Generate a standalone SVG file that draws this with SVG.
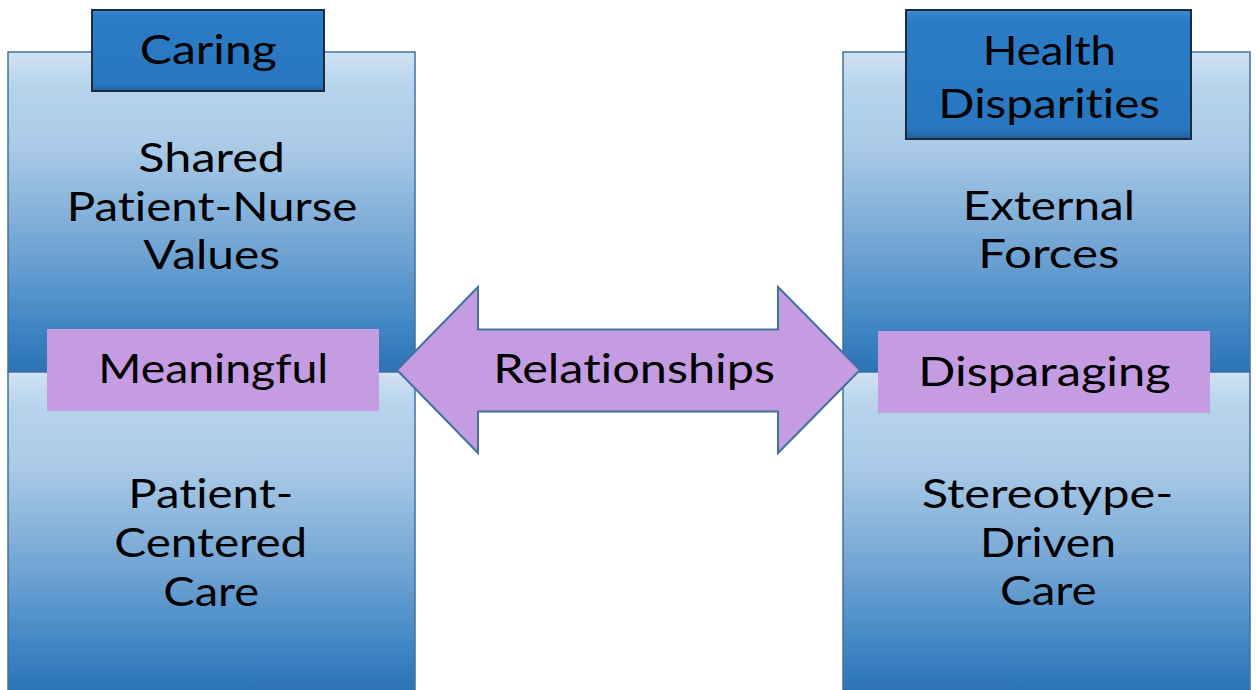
<svg xmlns="http://www.w3.org/2000/svg" width="1256" height="690" viewBox="0 0 1256 690">
  <defs>
    <linearGradient id="panelFill" x1="0" y1="0" x2="0" y2="1">
      <stop offset="0" stop-color="#d0e2f3"/>
      <stop offset="0.1" stop-color="#b8d4ec"/>
      <stop offset="0.3" stop-color="#a9cae7"/>
      <stop offset="0.6" stop-color="#74a6d4"/>
      <stop offset="0.85" stop-color="#4187c5"/>
      <stop offset="1" stop-color="#2c73b5"/>
    </linearGradient>
    <linearGradient id="headFill" x1="0" y1="0" x2="0" y2="1">
      <stop offset="0" stop-color="#3a8ad0"/>
      <stop offset="0.08" stop-color="#2b7cc6"/>
      <stop offset="0.92" stop-color="#2877c0"/>
      <stop offset="1" stop-color="#1f5f9c"/>
    </linearGradient>
  </defs>
  <style>
    .panel { fill: url(#panelFill); stroke: #41719c; stroke-width: 1.5; }
    .head { fill: url(#headFill); stroke: #1b2c3f; stroke-width: 2; }
    .tag { fill: #c59be1; }
    .arrow { fill: #c59be1; stroke: #41719c; stroke-width: 2; stroke-linejoin: miter; }
    text { font-family: Lato, "Noto Sans", "Liberation Sans", sans-serif; font-size: 40px; fill: #000; text-anchor: middle; font-variant-ligatures: none; }
  </style>

  <rect width="1256" height="690" fill="#ffffff"/>

  <!-- Left column: Caring -->
  <g id="caring-upper">
    <rect class="panel" x="8" y="52" width="407" height="320"/>
    <text x="211.7" y="171.7" textLength="146.7" lengthAdjust="spacingAndGlyphs">Shared</text>
    <text x="212" y="220.7" textLength="290.7" lengthAdjust="spacingAndGlyphs">Patient-Nurse</text>
    <text x="211.7" y="269.3" textLength="136.7" lengthAdjust="spacingAndGlyphs">Values</text>
  </g>
  <g id="caring-lower">
    <rect class="panel" x="8" y="372" width="407" height="320"/>
    <text x="210.8" y="507.7" textLength="165" lengthAdjust="spacingAndGlyphs">Patient-</text>
    <text x="210.8" y="556.7" textLength="193" lengthAdjust="spacingAndGlyphs">Centered</text>
    <text x="211.2" y="605.7" textLength="95.7" lengthAdjust="spacingAndGlyphs">Care</text>
  </g>
  <g id="caring-header">
    <rect class="head" x="92" y="10" width="232" height="81"/>
    <text x="208.3" y="64.3" textLength="137" lengthAdjust="spacingAndGlyphs">Caring</text>
  </g>
  <g id="meaningful">
    <rect class="tag" x="47" y="329" width="332" height="82"/>
    <text x="213.3" y="383.3" textLength="230" lengthAdjust="spacingAndGlyphs">Meaningful</text>
  </g>

  <!-- Right column: Health Disparities -->
  <g id="disparities-upper">
    <rect class="panel" x="843" y="52" width="407" height="320"/>
    <text x="1048.8" y="220" textLength="172.3" lengthAdjust="spacingAndGlyphs">External</text>
    <text x="1048.8" y="268.3" textLength="141" lengthAdjust="spacingAndGlyphs">Forces</text>
  </g>
  <g id="disparities-lower">
    <rect class="panel" x="843" y="372" width="407" height="320"/>
    <text x="1047.5" y="508.3" textLength="251.7" lengthAdjust="spacingAndGlyphs">Stereotype-</text>
    <text x="1048" y="556.7" textLength="136" lengthAdjust="spacingAndGlyphs">Driven</text>
    <text x="1048.3" y="605" textLength="96.7" lengthAdjust="spacingAndGlyphs">Care</text>
  </g>
  <g id="disparities-header">
    <rect class="head" x="906" y="10" width="285" height="129"/>
    <text x="1049.3" y="65" textLength="133.3" lengthAdjust="spacingAndGlyphs">Health</text>
    <text x="1049.2" y="118.3" textLength="221.7" lengthAdjust="spacingAndGlyphs">Disparities</text>
  </g>
  <g id="disparaging">
    <rect class="tag" x="878" y="331" width="332" height="82"/>
    <text x="1044.5" y="385.7" textLength="252.3" lengthAdjust="spacingAndGlyphs">Disparaging</text>
  </g>

  <!-- Connector: double-headed block arrow -->
  <g id="connectors">
    <g id="relationships">
      <path class="arrow" d="M397 370 L478 287 L478 329.5 L778 329.5 L778 287 L860 370 L778 453 L778 411.5 L478 411.5 L478 453 Z"/>
      <text x="634.2" y="383.3" textLength="281.7" lengthAdjust="spacingAndGlyphs">Relationships</text>
    </g>
  </g>
</svg>
